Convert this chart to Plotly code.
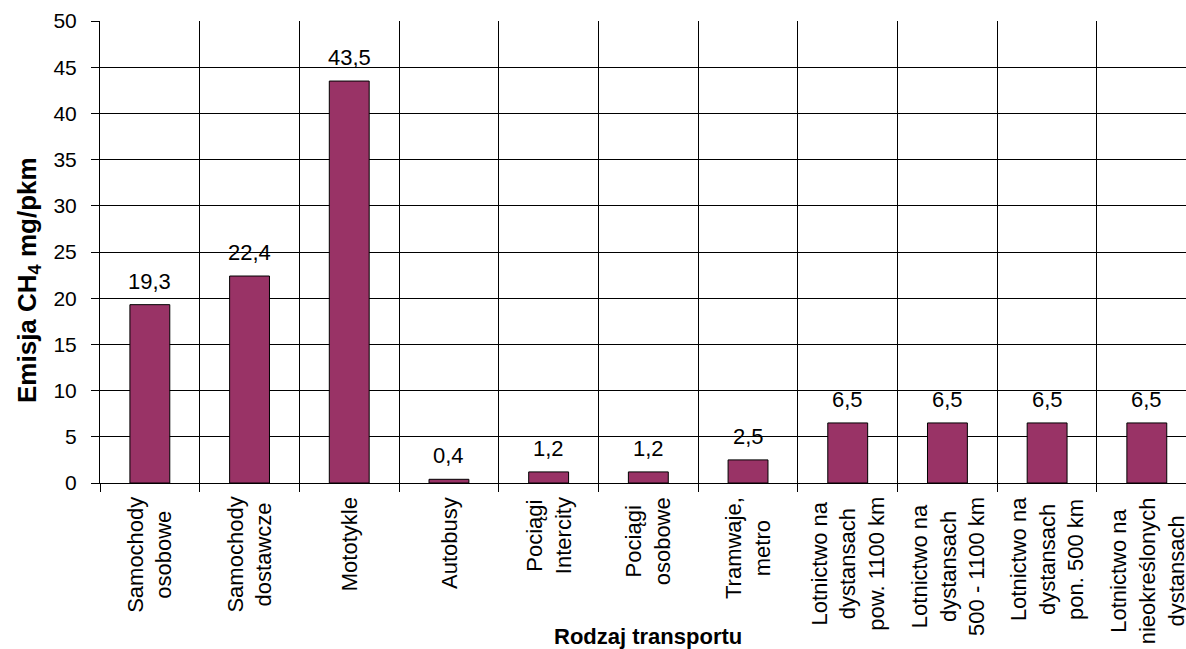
import plotly.graph_objects as go

categories = [
    "Samochody<br>osobowe",
    "Samochody<br>dostawcze",
    "Mototykle",
    "Autobusy",
    "Pociągi<br>Intercity",
    "Pociągi<br>osobowe",
    "Tramwaje,<br>metro",
    "Lotnictwo na<br>dystansach<br>pow. 1100 km",
    "Lotnictwo na<br>dystansach<br>500 - 1100 km",
    "Lotnictwo na<br>dystansach<br>pon. 500 km",
    "Lotnictwo na<br>nieokreślonych<br>dystansach",
]
values = [19.3, 22.4, 43.5, 0.4, 1.2, 1.2, 2.5, 6.5, 6.5, 6.5, 6.5]
y_ticks = [0, 5, 10, 15, 20, 25, 30, 35, 40, 45, 50]

FONT = "Arial, Liberation Sans, sans-serif"
BAR_COLOR = "#993366"

xs = list(range(len(categories)))

fig = go.Figure()
fig.add_trace(go.Bar(
    x=xs,
    y=values,
    width=0.4,
    marker=dict(color=BAR_COLOR, line=dict(color="black", width=1)),
    hoverinfo="skip",
))

annotations = []
# value labels
for x, v in zip(xs, values):
    annotations.append(dict(
        x=x, y=v, xref="x", yref="y",
        text=f"{v:.1f}".replace(".", ","),
        showarrow=False, yanchor="bottom", yshift=9,
        font=dict(family=FONT, size=22, color="black"),
    ))
# category labels (rotated, centered lines)
for x, c in zip(xs, categories):
    annotations.append(dict(
        x=x, y=0, xref="x", yref="paper",
        text=c, textangle=-90, align="center",
        showarrow=False, yanchor="top", xanchor="center", yshift=-12,
        font=dict(family=FONT, size=22, color="black"),
    ))
# x axis title
annotations.append(dict(
    x=5, y=0, xref="x", yref="paper",
    text="<b>Rodzaj transportu</b>",
    showarrow=False, yanchor="middle", xanchor="center",
    yshift=-(636 - 483),
    font=dict(family=FONT, size=22, color="black"),
))
# y axis title
annotations.append(dict(
    x=0, y=(483 - 280) / 462, xref="paper", yref="paper",
    text="<b>Emisja CH<sub>4</sub> mg/pkm</b>",
    textangle=-90,
    showarrow=False, yanchor="middle", xanchor="center",
    xshift=-72,
    font=dict(family=FONT, size=26, color="black"),
))

fig.update_layout(
    width=1186, height=649,
    margin=dict(l=100, r=0, t=21, b=166),
    paper_bgcolor="white", plot_bgcolor="white",
    showlegend=False,
    annotations=annotations,
    font=dict(family=FONT, color="black"),
    xaxis=dict(
        type="linear",
        range=[-0.5, 10.393],
        tickmode="array",
        tickvals=[i - 0.5 for i in range(len(categories) + 1)],
        showticklabels=False,
        ticks="outside", ticklen=8, tickcolor="black", tickwidth=1,
        showgrid=True, gridcolor="black", gridwidth=1,
        zeroline=False,
        showline=True, linecolor="black", linewidth=1,
        automargin=False,
        fixedrange=True,
    ),
    yaxis=dict(
        range=[0, 50],
        tickvals=y_ticks,
        ticks="outside", ticklen=8, tickcolor="black", tickwidth=1,
        tickfont=dict(family=FONT, size=21, color="black"),
        ticklabelstandoff=10,
        showgrid=True, gridcolor="black", gridwidth=1,
        zeroline=False,
        showline=True, linecolor="black", linewidth=1,
        automargin=False,
        fixedrange=True,
    ),
)

fig.write_html(
    "out.html",
    config={"displayModeBar": False},
    post_script="document.body.style.margin='0';document.body.style.overflow='hidden';",
)
